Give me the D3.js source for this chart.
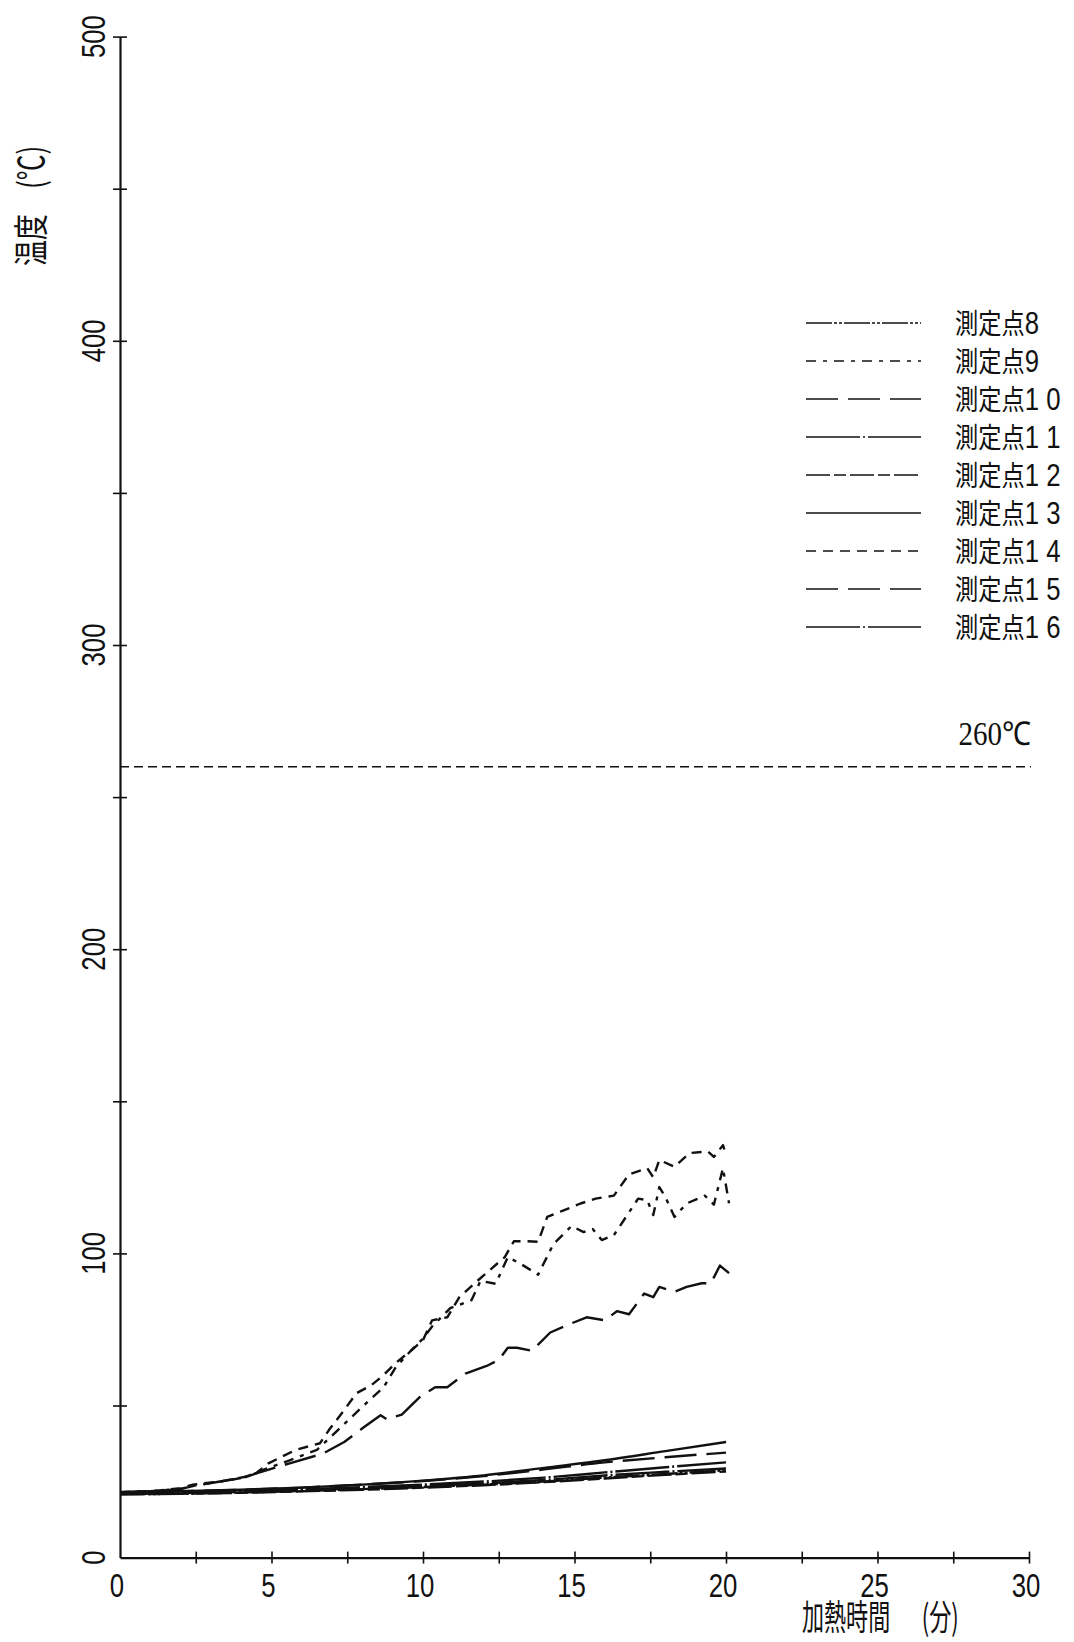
<!DOCTYPE html>
<html>
<head>
<meta charset="utf-8">
<script src="https://cdn.jsdelivr.net/npm/d3@7"></script>
<style>
  html, body { margin: 0; padding: 0; background: #fff; }
  svg { display: block; }
</style>
</head>
<body>
<svg id="chart" width="1074" height="1642"></svg>
<script>
// tick labels
const xTickLabels = [0, 5, 10, 15, 20, 25, 30];
const yTickLabels = [0, 100, 200, 300, 400, 500];
const limitTemp = 260;

// legend order
const legendNames = ["測定点8", "測定点9", "測定点1 0", "測定点1 1", "測定点1 2", "測定点1 3", "測定点1 4", "測定点1 5", "測定点1 6"];
const legendKeys = ["8", "9", "10", "11", "12", "13", "14", "15", "16"];

// lower curves, read every 2 min
const lowTimes = [0, 2, 4, 6, 8, 10, 12, 14, 16, 18, 20];
const p13 = [21.5, 21.8, 22.3, 23, 24, 25.3, 27, 29.5, 32, 35, 38];
const p10 = [21.5, 21.8, 22.3, 23, 24, 25.2, 26.8, 29, 31.3, 33, 34.5];
const p11 = [21, 21.3, 21.8, 22.4, 23.2, 24, 25, 26.3, 28, 29.7, 31.3];
const p16 = [21, 21.2, 21.6, 22.1, 22.8, 23.5, 24.4, 25.5, 27, 28.2, 29.3];
const p8 = [20.8, 21, 21.4, 21.9, 22.5, 23.2, 24, 25, 26.3, 27.5, 28.7];
const p12 = [20.8, 21, 21.3, 21.8, 22.3, 23, 23.8, 24.8, 26, 27.2, 28.3];

// upper curves [minute, degC]
const p14 = [[0,21.5],[1,21.8],[2,22.8],[2.4,24],[3.3,25],[4.1,26.5],[4.5,27.8],[4.9,31],[5.8,35.4],[6.6,37.6],[6.9,42],[7.4,48.5],[7.8,54],[8.3,56.7],[8.7,60],[9.1,64],[9.6,68],[10,71.5],[10.3,78],[10.8,79],[11.2,85.6],[11.8,91],[12.2,94.5],[12.7,98.8],[13,104],[13.4,104],[13.8,103.8],[14.1,112],[14.6,114],[15.2,116.4],[15.7,118],[16.3,119],[16.8,126],[17.4,128],[17.6,125],[17.8,130.7],[18.3,128.5],[18.8,133],[19.4,133.5],[19.6,131.7],[19.9,135.6],[20,132.3]];
const p9 = [[0,21.5],[1,21.8],[2,22.6],[2.4,23.6],[3.3,25],[4.1,26.3],[4.5,28],[5.6,32],[6.5,35.4],[7.2,42],[8,49.6],[8.7,56],[9.1,62.6],[9.6,68],[10,72],[10.3,76],[10.9,82],[11.6,84.6],[11.9,91],[12.4,90],[12.8,98.8],[13.2,96.7],[13.8,93],[14.3,103],[14.9,109],[15.3,107],[15.6,108],[15.9,104.4],[16.3,106],[17.1,118],[17.4,117.5],[17.6,112.6],[17.8,121.8],[18,118.5],[18.3,112],[18.7,116.4],[19.3,119],[19.6,116],[19.9,128],[20.1,116.5]];
const p15 = [[0,21.5],[1,21.8],[2,22.5],[2.4,23.5],[3.3,25],[4.1,26.3],[4.5,27.7],[5.6,31],[6.7,34.2],[7.4,38],[8,42.5],[8.6,46.8],[8.8,45.5],[9.3,47],[9.9,52.8],[10.4,56],[10.8,56],[11.4,60.5],[12.1,63],[12.5,65],[12.8,69],[13.1,69],[13.6,68],[14.2,74],[14.9,77],[15.4,79],[16,78],[16.4,81],[16.8,80],[17.3,86.8],[17.6,85.6],[17.8,89],[18.3,87.4],[18.7,89],[19.2,90.2],[19.5,90.2],[19.8,96],[20.1,93.5]];

// dash style per point
const dashes = {
    "8": "26,2,3,2,3,2",
    "9": "10,7,4,7",
    "10": "32,10",
    "11": "54,3,2,3",
    "12": "24,4,12,4",
    "13": null,
    "14": "10,7",
    "15": "32,10",
    "16": "54,3,2,3"
};

const svg = d3.select("#chart");
svg.append("rect").attr("width", 1074).attr("height", 1642).style("fill", "#fff");

const x = d3.scaleLinear().domain([0, 30]).range([120, 1029]);
const y = d3.scaleLinear().domain([0, 500]).range([1557.6, 36.6]);

// axes, ticks cross the line
svg.append("g")
    .attr("transform", `translate(0,${y(0)})`)
    .call(d3.axisBottom(x).tickValues(d3.range(2.5, 30.01, 2.5)).tickSize(6).tickSizeOuter(0).tickFormat(""))
    .call(g => g.selectAll(".tick line").attr("y1", -6).style("stroke-width", 1.6))
    .call(g => g.select(".domain").style("stroke-width", 2.2));

svg.append("g")
    .attr("transform", `translate(${x(0)},0)`)
    .call(d3.axisLeft(y).tickValues(d3.range(50, 500.1, 50)).tickSize(7).tickSizeOuter(0).tickFormat(""))
    .call(g => g.selectAll(".tick line").attr("x1", 7).style("stroke-width", 1.6))
    .call(g => g.select(".domain").style("stroke-width", 2.2));

svg.selectAll(".domain, .tick line").style("stroke", "#111");

// tick labels, narrow
svg.selectAll(".xlab")
    .data(xTickLabels)
    .enter()
    .append("text")
    .attr("transform", d => `translate(${x(d) - 3},1597) scale(0.78,1)`)
    .attr("text-anchor", "middle")
    .style("font-family", "Liberation Sans, Arial, sans-serif")
    .style("font-size", "33px")
    .style("fill", "#111")
    .text(d => d);

svg.selectAll(".ylab")
    .data(yTickLabels)
    .enter()
    .append("text")
    .attr("transform", d => `translate(105,${y(d)}) rotate(-90) scale(0.78,1)`)
    .attr("text-anchor", "middle")
    .style("font-family", "Liberation Sans, Arial, sans-serif")
    .style("font-size", "33px")
    .style("fill", "#111")
    .text(d => d);

// axis titles
const yTitle = svg.append("text")
    .attr("transform", "translate(44,266) rotate(-90) scale(0.74,1)")
    .style("font-family", "Noto Sans CJK JP, sans-serif")
    .style("font-size", "35px")
    .style("fill", "#111");
yTitle.append("tspan").text("温度");
yTitle.append("tspan").attr("dx", 34).text("(℃)");

const xTitle = svg.append("text")
    .attr("transform", "translate(802,1630) scale(0.63,1)")
    .style("font-family", "Noto Sans CJK JP, sans-serif")
    .style("font-size", "35px")
    .style("fill", "#111");
xTitle.append("tspan").text("加熱時間");
xTitle.append("tspan").attr("dx", 50).text("(分)");

// 260 degC limit
svg.append("line")
    .attr("x1", x(0))
    .attr("x2", x(30) + 2)
    .attr("y1", y(limitTemp))
    .attr("y2", y(limitTemp))
    .style("stroke", "#111")
    .style("stroke-width", 1.6)
    .style("stroke-dasharray", "9,5");

svg.append("text")
    .attr("transform", `translate(1031,${y(limitTemp) - 22}) scale(0.88,1)`)
    .attr("text-anchor", "end")
    .style("font-family", "Liberation Serif, serif")
    .style("font-size", "33px")
    .style("fill", "#111")
    .text("260℃");

// curves
const line = d3.line().x(d => x(d[0])).y(d => y(d[1]));
const smooth = d3.line().curve(d3.curveMonotoneX).x(d => x(d[0])).y(d => y(d[1]));
const lowSeries = [["12", p12], ["8", p8], ["16", p16], ["11", p11], ["10", p10], ["13", p13]];
for (const s of lowSeries) {
    const pts = lowTimes.map((t, i) => [t, s[1][i]]);
    svg.append("path")
        .attr("d", smooth(pts))
        .style("fill", "none")
        .style("stroke", "#111")
        .style("stroke-width", 2.4)
        .style("stroke-dasharray", dashes[s[0]]);
}
const highSeries = [["15", p15], ["9", p9], ["14", p14]];
for (const s of highSeries) {
    svg.append("path")
        .attr("d", line(s[1]))
        .style("fill", "none")
        .style("stroke", "#111")
        .style("stroke-width", 2.4)
        .style("stroke-linejoin", "round")
        .style("stroke-dasharray", dashes[s[0]]);
}

// legend
const legendY = d3.scaleLinear().domain([0, 8]).range([323, 627]);
legendKeys.forEach((k, i) => {
    svg.append("line")
        .attr("x1", 806)
        .attr("x2", 921)
        .attr("y1", legendY(i))
        .attr("y2", legendY(i))
        .style("stroke", "#111")
        .style("stroke-width", 1.7)
        .style("stroke-dasharray", dashes[k]);
    const t = svg.append("text")
        .attr("transform", `translate(955,${legendY(i) + 10.5}) scale(0.83,1)`)
        .style("font-family", "Noto Sans CJK JP, sans-serif")
        .style("font-size", "28px")
        .style("white-space", "pre")
        .style("fill", "#111");
    t.append("tspan").text(legendNames[i].slice(0, 3));
    t.append("tspan")
        .style("font-family", "Liberation Sans, Arial, sans-serif")
        .style("font-size", "31px")
        .text(legendNames[i].slice(3));
});
</script>
</body>
</html>
